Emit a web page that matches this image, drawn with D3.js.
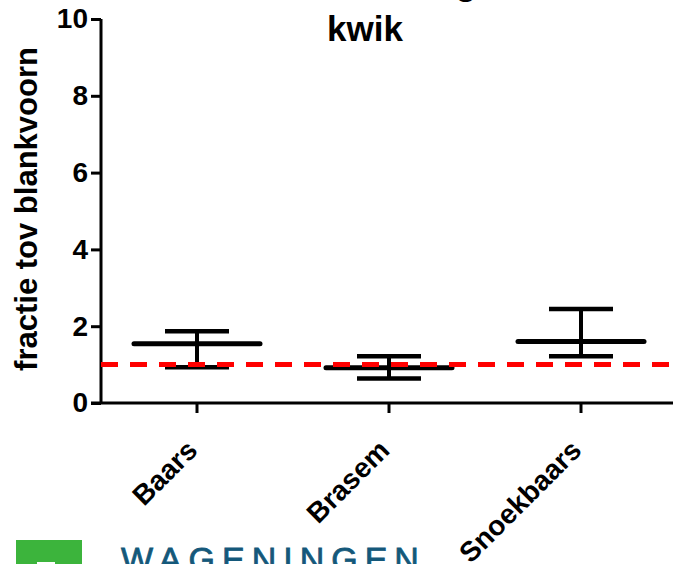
<!DOCTYPE html>
<html><head><meta charset="utf-8">
<script src="https://cdn.jsdelivr.net/npm/d3@7"></script>
<style>
html,body{margin:0;padding:0;background:#fff;overflow:hidden}
text{font-family:"Liberation Sans",Arial,sans-serif}
</style></head>
<body><svg id="c" width="673" height="564"></svg>
<script>
const categories = ["Baars", "Brasem", "Snoekbaars"];
const means = [1.54, 0.92, 1.60];
const upper = [1.87, 1.22, 2.45];
const lower = [0.93, 0.64, 1.22];
const referenceValue = 1;
const yTicks = [0, 2, 4, 6, 8, 10];
const title = "kwik";
const yLabel = "fractie tov blankvoorn";

const svg = d3.select("#c");
const y = d3.scaleLinear().domain([0, 10]).range([403, 19]);
const x = d3.scaleBand().domain(categories).range([101, 677]);

// partially clipped first title line
svg.append("text").attr("x", 466).attr("y", -5).attr("text-anchor", "middle")
  .attr("font-size", 35).attr("font-weight", "bold").text("g");
svg.append("text").attr("x", 365).attr("y", 41).attr("text-anchor", "middle")
  .attr("font-size", 35).attr("font-weight", "bold").text(title);

// y axis
const yAxis = d3.axisLeft(y).tickValues(yTicks).tickSize(10).tickPadding(3).tickFormat(d3.format("d"));
const gy = svg.append("g").attr("transform", "translate(101,0)").call(yAxis);
gy.select(".domain").attr("stroke", "#000").attr("stroke-width", 3).attr("d", "M0,19V403");
gy.selectAll(".tick line").attr("stroke", "#000").attr("stroke-width", 3);
gy.selectAll(".tick text").attr("font-size", 28).attr("font-weight", "bold").attr("fill", "#000")
  .attr("font-family", "'Liberation Sans',Arial,sans-serif");

// x axis
const xAxis = d3.axisBottom(x).tickSize(10).tickFormat("");
const gx = svg.append("g").attr("transform", "translate(0,403)").call(xAxis);
gx.select(".domain").attr("stroke", "#000").attr("stroke-width", 3).attr("d", "M91,0H677");
gx.selectAll(".tick line").attr("stroke", "#000").attr("stroke-width", 3);

svg.append("g").selectAll("text").data(categories).join("text")
  .attr("transform", d => `translate(${x(d) + x.bandwidth() / 2 + 2},452) rotate(-45)`)
  .attr("text-anchor", "end").attr("font-size", 28).attr("font-weight", "bold").text(d => d);

// y label
svg.append("text").attr("transform", "translate(37,209) rotate(-90)")
  .attr("text-anchor", "middle").attr("font-size", 31).attr("font-weight", "bold").text(yLabel);

// error bars
const cx = d => x(d) + x.bandwidth() / 2;
const g = svg.append("g").attr("stroke", "#000");
categories.forEach((c, i) => {
  g.append("line").attr("x1", cx(c)).attr("x2", cx(c)).attr("y1", y(upper[i])).attr("y2", y(lower[i])).attr("stroke-width", 4);
  [upper[i], lower[i]].forEach(v => {
    g.append("line").attr("x1", cx(c) - 32).attr("x2", cx(c) + 32).attr("y1", y(v)).attr("y2", y(v)).attr("stroke-width", 4.5);
  });
  g.append("line").attr("x1", cx(c) - 63).attr("x2", cx(c) + 63).attr("y1", y(means[i])).attr("y2", y(means[i]))
    .attr("stroke-width", 5).attr("stroke-linecap", "round");
});

// reference line
svg.append("line").attr("x1", 101).attr("x2", 673).attr("y1", y(referenceValue)).attr("y2", y(referenceValue))
  .attr("stroke", "#ff0000").attr("stroke-width", 5).attr("stroke-dasharray", "17,12");

// logo (partially visible)
svg.append("rect").attr("x", 16).attr("y", 540).attr("width", 66).attr("height", 30).attr("fill", "#3cb43c");
svg.append("rect").attr("x", 37).attr("y", 562).attr("width", 18).attr("height", 6).attr("fill", "#fff");
svg.append("text").attr("x", 121).attr("y", 571).attr("font-size", 34).attr("letter-spacing", 7)
  .attr("stroke", "#14587a").attr("stroke-width", 0.8)
  .attr("fill", "#14587a").text("WAGENINGEN");
</script></body></html>
